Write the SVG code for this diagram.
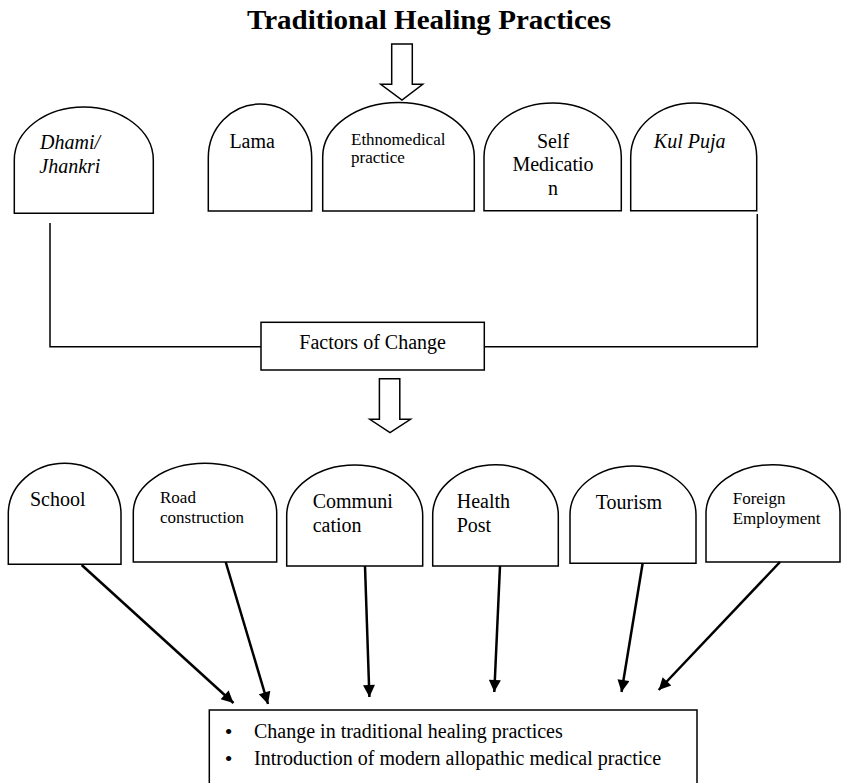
<svg xmlns="http://www.w3.org/2000/svg" width="841" height="783" viewBox="0 0 841 783">
<defs>
<style>
.s{fill:#fff;stroke:#000;stroke-width:1.5}
.l{fill:none;stroke:#000;stroke-width:1.5}
.a{fill:none;stroke:#000;stroke-width:2.5}
text{font-family:"Liberation Serif","Times New Roman",serif;fill:#000}
.t20{font-size:20px}
.t17{font-size:17px}
.i{font-style:italic}
.b{font-size:22px}
</style>
<marker id="ah" viewBox="0 0 10 10" refX="10" refY="5" markerWidth="14" markerHeight="12" markerUnits="userSpaceOnUse" orient="auto">
<path d="M0,0 L10,5 L0,10 Z" fill="#000"/>
</marker>
</defs>
<rect width="841" height="783" fill="#fff"/>

<g id="title">
<text x="247" y="28.5" font-size="28" font-weight="bold" textLength="364" lengthAdjust="spacingAndGlyphs">Traditional Healing Practices</text>
</g>

<g id="arrow-top">
<path class="s" d="M391.7,44 H412.3 V84.3 H422.7 L402,100 L380.7,84.3 H391.7 Z"/>
</g>

<g id="dhami">
<path class="s" d="M14.3,213.3 V160 A69.5,53 0 0 1 153.3,160 V213.3 Z"/>
<text class="t20 i" x="40" y="148.5">Dhami/</text>
<text class="t20 i" x="39.3" y="173.3">Jhankri</text>
</g>
<g id="lama">
<path class="s" d="M208.3,211 V157.5 A51.7,53.5 0 0 1 311.7,157.5 V211 Z"/>
<text class="t20" x="229.4" y="147.7">Lama</text>
</g>
<g id="ethno">
<path class="s" d="M322.7,211 V156.8 A75.8,54.3 0 0 1 474.3,156.8 V211 Z"/>
<text class="t17" x="351" y="145">Ethnomedical</text>
<text class="t17" x="351" y="163.3">practice</text>
</g>
<g id="self">
<path class="s" d="M484,210.7 V156.8 A68.65,53.8 0 0 1 621.3,156.8 V210.7 Z"/>
<text class="t20" x="553" y="148.3" text-anchor="middle">Self</text>
<text class="t20" x="553" y="170.7" text-anchor="middle">Medicatio</text>
<text class="t20" x="553" y="194.5" text-anchor="middle">n</text>
</g>
<g id="kulpuja">
<path class="s" d="M630.7,210.7 V156.8 A63,53.8 0 0 1 756.7,156.8 V210.7 Z"/>
<text class="t20 i" x="653.8" y="147.7">Kul Puja</text>
</g>

<g id="factors">
<rect class="s" x="261" y="322.3" width="223.3" height="47.7"/>
<text class="t20" x="372.6" y="349" text-anchor="middle">Factors of Change</text>
</g>

<g id="arrow-mid">
<path class="s" d="M379.4,378.7 H399.8 V419.3 H410.5 L390,432.7 L369.8,419.3 H379.4 Z"/>
</g>

<g id="school">
<path class="s" d="M8.3,564.3 V513.8 A56.35,50.5 0 0 1 121,513.8 V564.3 Z"/>
<text class="t20" x="30" y="506">School</text>
</g>
<g id="road">
<path class="s" d="M133.3,562 V512.7 A71.7,49.4 0 0 1 276.7,512.7 V562 Z"/>
<text class="t17" x="160" y="503.3">Road</text>
<text class="t17" x="160" y="522.7">construction</text>
</g>
<g id="communication">
<path class="s" d="M286.7,566 V515.5 A68,50.5 0 0 1 422.7,515.5 V566 Z"/>
<text class="t20" x="312.7" y="508.3" font-size="20.5">Communi</text>
<text class="t20" x="312.7" y="531.7" font-size="20.5">cation</text>
</g>
<g id="health">
<path class="s" d="M432.7,566 V515.35 A62.8,50.65 0 0 1 558.3,515.35 V566 Z"/>
<text class="t20" x="456.7" y="508.3">Health</text>
<text class="t20" x="456.7" y="531.7">Post</text>
</g>
<g id="tourism">
<path class="s" d="M570,563.3 V514.65 A63,48.65 0 0 1 696,514.65 V563.3 Z"/>
<text class="t20" x="595.7" y="509.3">Tourism</text>
</g>
<g id="foreign">
<path class="s" d="M706,562 V513.35 A67,48.65 0 0 1 840,513.35 V562 Z"/>
<text class="t17" x="732.7" y="504">Foreign</text>
<text class="t17" x="732.7" y="524">Employment</text>
</g>

<g id="result">
<rect class="s" x="209.3" y="710" width="487.7" height="80"/>
<text class="b" x="228.5" y="739" text-anchor="middle">•</text>
<text class="t20" x="254" y="738">Change in traditional healing practices</text>
<text class="b" x="228.5" y="765.5" text-anchor="middle">•</text>
<text class="t20" x="254" y="764.5">Introduction of modern allopathic medical practice</text>
</g>

<g id="connectors">
<polyline class="l" points="50,223 50,346.7 261,346.7"/>
<polyline class="l" points="757.3,214 757.3,346.7 484.3,346.7"/>
<line class="a" x1="81.7" y1="565" x2="233.5" y2="703" marker-end="url(#ah)"/>
<line class="a" x1="225.7" y1="562" x2="268" y2="704" marker-end="url(#ah)"/>
<line class="a" x1="365" y1="566" x2="369.4" y2="697" marker-end="url(#ah)"/>
<line class="a" x1="500" y1="566" x2="494.3" y2="692" marker-end="url(#ah)"/>
<line class="a" x1="642.7" y1="563" x2="621.5" y2="692" marker-end="url(#ah)"/>
<line class="a" x1="780" y1="562" x2="658.7" y2="690" marker-end="url(#ah)"/>
</g>
</svg>
